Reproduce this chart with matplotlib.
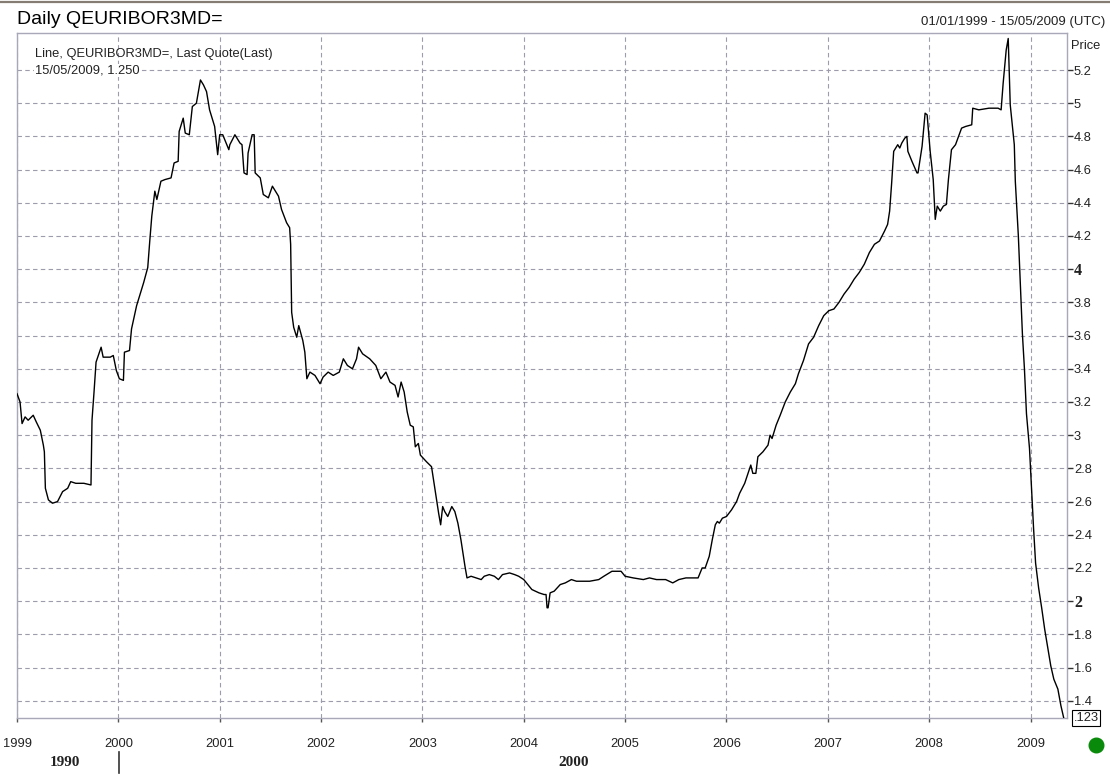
import matplotlib
matplotlib.use("Agg")
import matplotlib.pyplot as plt
from matplotlib.lines import Line2D

plt.rcParams["font.family"] = ["Liberation Sans", "DejaVu Sans"]

INK = "#000000"
FRAME = "#a8a8b8"
GRID = "#9c9cac"

# decimal year, 3M EURIBOR
years = [
    1999.00, 1999.03, 1999.05, 1999.08, 1999.11, 1999.16, 1999.19, 1999.23, 1999.26, 1999.27,
    1999.28, 1999.31, 1999.35, 1999.40, 1999.45, 1999.50, 1999.53, 1999.58, 1999.66, 1999.73,
    1999.74, 1999.76, 1999.78, 1999.83, 1999.85, 1999.92, 1999.95, 1999.98, 2000.01, 2000.05,
    2000.06, 2000.11, 2000.13, 2000.18, 2000.20, 2000.25, 2000.29, 2000.31, 2000.33, 2000.36,
    2000.38, 2000.42, 2000.46, 2000.52, 2000.55, 2000.59, 2000.60, 2000.64, 2000.66, 2000.70,
    2000.73, 2000.77, 2000.81, 2000.84, 2000.87, 2000.90, 2000.95, 2000.98, 2001.00, 2001.03,
    2001.09, 2001.10, 2001.15, 2001.20, 2001.22, 2001.24, 2001.27, 2001.28, 2001.32, 2001.34,
    2001.35, 2001.40, 2001.43, 2001.48, 2001.52, 2001.58, 2001.61, 2001.66, 2001.69, 2001.70,
    2001.71, 2001.73, 2001.76, 2001.78, 2001.82, 2001.84, 2001.86, 2001.89, 2001.94, 2001.99,
    2002.02, 2002.07, 2002.12, 2002.18, 2002.22, 2002.26, 2002.31, 2002.35, 2002.37, 2002.41,
    2002.48, 2002.54, 2002.59, 2002.64, 2002.68, 2002.73, 2002.76, 2002.79, 2002.82, 2002.85,
    2002.88, 2002.91, 2002.93, 2002.96, 2002.98, 2003.01, 2003.04, 2003.09, 2003.12, 2003.14,
    2003.16, 2003.18, 2003.20, 2003.22, 2003.25, 2003.29, 2003.32, 2003.35, 2003.38, 2003.42,
    2003.44, 2003.48, 2003.53, 2003.58, 2003.61, 2003.66, 2003.71, 2003.75, 2003.79, 2003.86,
    2003.91, 2003.95, 2004.00, 2004.04, 2004.08, 2004.15, 2004.20, 2004.22, 2004.23, 2004.24,
    2004.26, 2004.30, 2004.36, 2004.41, 2004.47, 2004.52, 2004.59, 2004.65, 2004.74, 2004.79,
    2004.87, 2004.96, 2005.00, 2005.08, 2005.18, 2005.24, 2005.31, 2005.40, 2005.47, 2005.53,
    2005.60, 2005.72, 2005.76, 2005.79, 2005.83, 2005.86, 2005.89, 2005.91, 2005.93, 2005.96,
    2006.00, 2006.05, 2006.10, 2006.13, 2006.18, 2006.24, 2006.26, 2006.29, 2006.31, 2006.36,
    2006.41, 2006.43, 2006.45, 2006.49, 2006.53, 2006.58, 2006.63, 2006.68, 2006.71, 2006.76,
    2006.81, 2006.86, 2006.91, 2006.96, 2007.01, 2007.06, 2007.11, 2007.16, 2007.21, 2007.26,
    2007.31, 2007.36, 2007.41, 2007.46, 2007.51, 2007.56, 2007.59, 2007.61, 2007.63, 2007.65,
    2007.69, 2007.71, 2007.73, 2007.76, 2007.78, 2007.79, 2007.83, 2007.88, 2007.89, 2007.93,
    2007.96, 2007.98, 2008.01, 2008.04, 2008.06, 2008.08, 2008.11, 2008.14, 2008.17, 2008.19,
    2008.22, 2008.26, 2008.29, 2008.32, 2008.36, 2008.42, 2008.43, 2008.49, 2008.59, 2008.68,
    2008.71, 2008.73, 2008.76, 2008.78, 2008.80, 2008.84, 2008.85, 2008.88, 2008.90, 2008.92,
    2008.94, 2008.96, 2008.99, 2009.01, 2009.03, 2009.05, 2009.08, 2009.11, 2009.14, 2009.17,
    2009.20, 2009.23, 2009.27, 2009.30, 2009.33, 2009.37,
]
rates = [
    3.25, 3.20, 3.07, 3.11, 3.09, 3.12, 3.08, 3.03, 2.94, 2.90,
    2.68, 2.61, 2.59, 2.60, 2.66, 2.68, 2.72, 2.71, 2.71, 2.70,
    3.09, 3.26, 3.44, 3.53, 3.47, 3.47, 3.48, 3.39, 3.34, 3.33,
    3.50, 3.51, 3.64, 3.78, 3.82, 3.92, 4.01, 4.17, 4.32, 4.47,
    4.42, 4.53, 4.54, 4.55, 4.64, 4.65, 4.83, 4.91, 4.82, 4.81,
    4.98, 5.00, 5.14, 5.11, 5.07, 4.96, 4.86, 4.69, 4.81, 4.81,
    4.72, 4.75, 4.81, 4.76, 4.75, 4.58, 4.57, 4.70, 4.81, 4.81,
    4.58, 4.55, 4.45, 4.43, 4.50, 4.44, 4.36, 4.28, 4.25, 4.15,
    3.74, 3.65, 3.59, 3.66, 3.57, 3.50, 3.34, 3.38, 3.36, 3.31,
    3.35, 3.38, 3.36, 3.38, 3.46, 3.42, 3.40, 3.46, 3.53, 3.49,
    3.46, 3.42, 3.34, 3.38, 3.32, 3.30, 3.23, 3.32, 3.26, 3.14,
    3.06, 3.05, 2.93, 2.95, 2.88, 2.86, 2.84, 2.81, 2.69, 2.61,
    2.53, 2.46, 2.57, 2.54, 2.51, 2.57, 2.54, 2.47, 2.37, 2.21,
    2.14, 2.15, 2.14, 2.13, 2.15, 2.16, 2.15, 2.13, 2.16, 2.17,
    2.16, 2.15, 2.13, 2.10, 2.07, 2.05, 2.04, 2.04, 1.96, 1.96,
    2.05, 2.06, 2.10, 2.11, 2.13, 2.12, 2.12, 2.12, 2.13, 2.15,
    2.18, 2.18, 2.15, 2.14, 2.13, 2.14, 2.13, 2.13, 2.11, 2.13,
    2.14, 2.14, 2.20, 2.20, 2.27, 2.37, 2.46, 2.48, 2.47, 2.50,
    2.51, 2.55, 2.60, 2.65, 2.71, 2.82, 2.77, 2.77, 2.87, 2.90,
    2.94, 3.00, 2.98, 3.06, 3.12, 3.20, 3.26, 3.31, 3.37, 3.45,
    3.55, 3.59, 3.66, 3.72, 3.75, 3.76, 3.80, 3.85, 3.89, 3.94,
    3.98, 4.03, 4.10, 4.15, 4.17, 4.23, 4.27, 4.35, 4.52, 4.71,
    4.75, 4.73, 4.76, 4.79, 4.80, 4.71, 4.65, 4.58, 4.58, 4.74,
    4.94, 4.93, 4.71, 4.54, 4.30, 4.38, 4.35, 4.38, 4.39, 4.54,
    4.72, 4.75, 4.80, 4.85, 4.86, 4.87, 4.97, 4.96, 4.97, 4.97,
    4.96, 5.12, 5.32, 5.39, 4.99, 4.75, 4.53, 4.20, 3.91, 3.61,
    3.40, 3.13, 2.92, 2.68, 2.44, 2.23, 2.08, 1.96, 1.83, 1.72,
    1.61, 1.53, 1.47, 1.37, 1.29, 1.25,
]

year_ticks = list(range(1999, 2010))
price_ticks = [1.4, 1.6, 1.8, 2.0, 2.2, 2.4, 2.6, 2.8, 3.0, 3.2, 3.4, 3.6,
               3.8, 4.0, 4.2, 4.4, 4.6, 4.8, 5.0, 5.2]
price_labels = ["1.4", "1.6", "1.8", "2", "2.2", "2.4", "2.6", "2.8", "3", "3.2",
                "3.4", "3.6", "3.8", "4", "4.2", "4.4", "4.6", "4.8", "5", "5.2"]
bold_labels = ["2", "4"]

W, H = 1110, 774
fig = plt.figure(figsize=(W / 100, H / 100), dpi=100)
fig.patch.set_facecolor("white")
ax = fig.add_axes([17 / W, 1 - 718 / H, 1050 / W, 685 / H])

ax.plot(years, rates, color=INK, linewidth=1.0, zorder=3)
ax.set_xlim(1999.0, 2009.36)
ax.set_ylim(1.296, 5.423)

ax.set_xticks(year_ticks)
ax.set_xticklabels([str(y) for y in year_ticks], fontsize=9.3)
ax.set_yticks(price_ticks)
ax.set_yticklabels(price_labels, fontsize=9.3)
ax.yaxis.tick_right()
ax.tick_params(axis="y", direction="out", length=4, width=1, color="#333333",
               pad=1, labelcolor="#222222")
ax.tick_params(axis="x", direction="out", length=3, width=1, color="#555555",
               pad=16, labelcolor="#222222")
for lbl in ax.get_xticklabels():
    lbl.set_va("center")
for lbl in ax.get_yticklabels():
    if lbl.get_text() in bold_labels:
        lbl.set_fontfamily("Liberation Serif")
        lbl.set_fontweight("bold")
        lbl.set_fontsize(11.5)

ax.grid(True, color=GRID, linestyle=(0, (4, 3)), linewidth=0.8)
ax.set_axisbelow(True)
for sp in ax.spines.values():
    sp.set_color(FRAME)
    sp.set_linewidth(1.0)

ax.text(0.017, 0.97, "Line, QEURIBOR3MD=, Last Quote(Last)", transform=ax.transAxes,
        fontsize=9.3, color="#222222", va="center", ha="left")
ax.text(0.017, 0.945, "15/05/2009, 1.250", transform=ax.transAxes,
        fontsize=9.3, color="#222222", va="center", ha="left",
        bbox=dict(facecolor="white", edgecolor="none", pad=0.5))

# header
fig.add_artist(Line2D([0, 1], [1 - 2 / H, 1 - 2 / H], color="#857d74",
                      linewidth=1.6, transform=fig.transFigure))
fig.text(17 / W, 1 - 19 / H, "Daily QEURIBOR3MD=", fontsize=14,
         color=INK, ha="left", va="center")
fig.text(1105 / W, 1 - 22 / H, "01/01/1999 - 15/05/2009 (UTC)", fontsize=9.5,
         color="#222222", ha="right", va="center")
fig.text(1071 / W, 1 - 46 / H, "Price", fontsize=9.3, color="#222222",
         ha="left", va="center")

# last value tag and status dot
fig.text(1086 / W, 1 - 718 / H, ".123", fontsize=9.3, color="#222222",
         ha="center", va="center",
         bbox=dict(boxstyle="square,pad=0.12", facecolor="white",
                   edgecolor=INK, linewidth=0.8))
fig.add_artist(Line2D([1096 / W], [1 - 745 / H], marker="o", markersize=10.5,
                      color="#0a8a0a", linestyle="none", transform=fig.transFigure))

# decade row
fig.text(65 / W, 1 - 763 / H, "1990", fontsize=11, fontweight="bold",
         family="Liberation Serif", ha="center", va="center", color="#222222")
fig.text(574 / W, 1 - 763 / H, "2000", fontsize=11, fontweight="bold",
         family="Liberation Serif", ha="center", va="center", color="#222222")
fig.add_artist(Line2D([119 / W, 119 / W], [1 - 752 / H, 1 - 773 / H],
                      color="#333333", linewidth=1.2, transform=fig.transFigure))

fig.savefig("out.png", dpi=100, facecolor="white")
